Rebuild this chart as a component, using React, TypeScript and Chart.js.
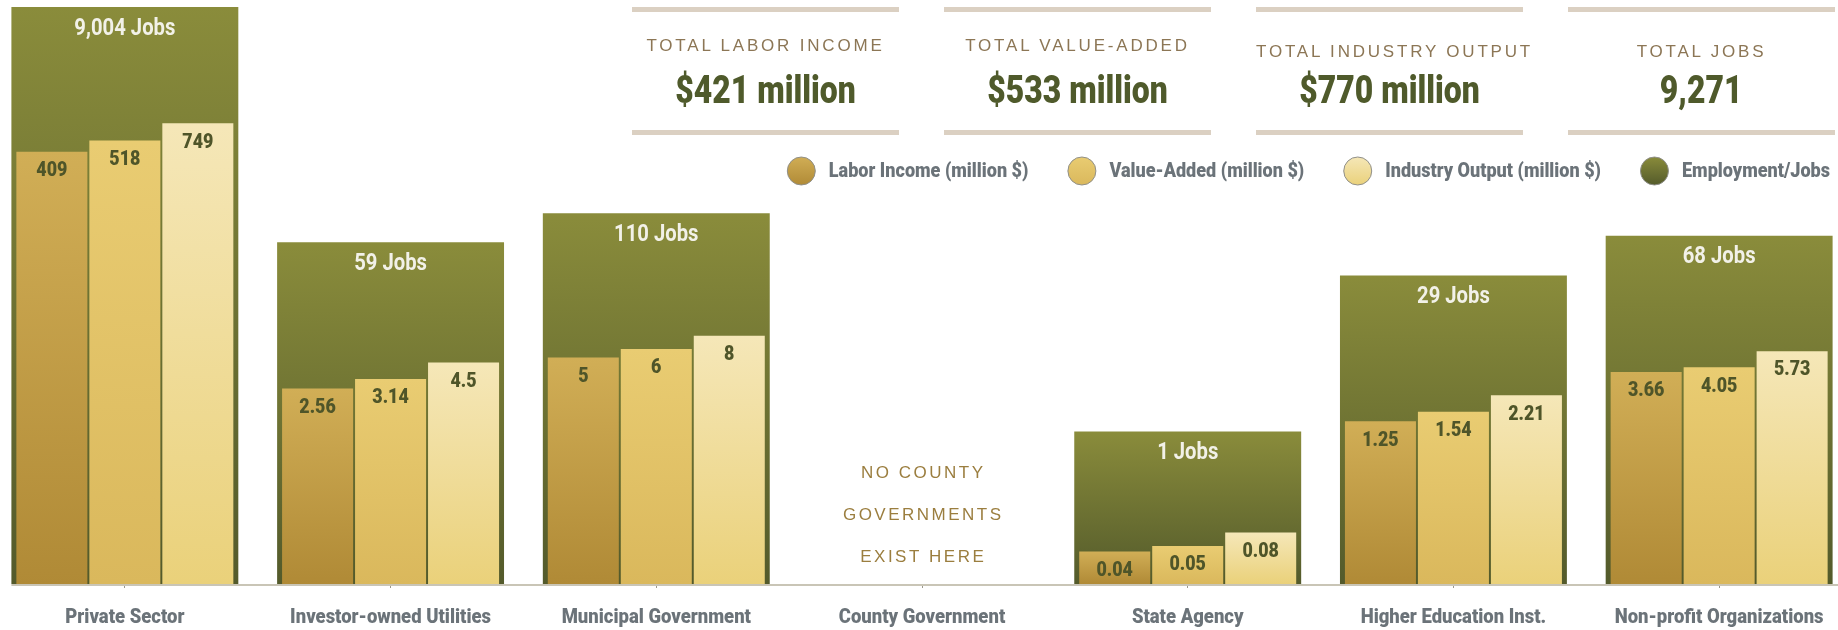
import React, { useEffect, useRef } from "react";
import { Chart, registerables, LogarithmicScale } from "chart.js";

// ---------------- data ----------------
const categories = [
  "Private Sector",
  "Investor-owned Utilities",
  "Municipal Government",
  "County Government",
  "State Agency",
  "Higher Education Inst.",
  "Non-profit Organizations",
];
const laborIncome = [409, 2.56, 5, null, 0.04, 1.25, 3.66];
const valueAdded = [518, 3.14, 6, null, 0.05, 1.54, 4.05];
const industryOutput = [749, 4.5, 8, null, 0.08, 2.21, 5.73];
const jobs = [9004, 59, 110, null, 1, 29, 68];

const legendLabels = [
  "Labor Income (million $)",
  "Value-Added (million $)",
  "Industry Output (million $)",
  "Employment/Jobs",
];
const kpiTitles = ["TOTAL LABOR INCOME", "TOTAL VALUE-ADDED", "TOTAL INDUSTRY OUTPUT", "TOTAL JOBS"];
const kpiValues = ["$421 million", "$533 million", "$770 million", "9,271"];
const noDataNote = ["NO COUNTY", "GOVERNMENTS", "EXIST HERE"];

const Y_MIN = 0.04;
const Y_MAX = 10000;

// ---------------- styles ----------------
const BOLD = 'Roboto, "Liberation Sans", "DejaVu Sans", sans-serif';
const REG = '"Liberation Sans", "DejaVu Sans", sans-serif';
const W = "900";
const GRADS: [string, string][] = [
  ["#d1ae56", "#b08a36"],
  ["#e9cc72", "#dab85c"],
  ["#f5e7b8", "#ead17a"],
  ["#8a8c3b", "#535a2b"],
];

// log scale whose values are shifted by its minimum so tiny values stay visible
class ShiftedLogScale extends LogarithmicScale {
  static id = "shiftedLog";
  static defaults = LogarithmicScale.defaults;
  getPixelForValue(value: any) {
    if (value === undefined || value === null || value === 0 || isNaN(value)) {
      return super.getPixelForValue(value);
    }
    return super.getPixelForValue(value + Y_MIN);
  }
}

Chart.register(...registerables, ShiftedLogScale);

function barGradient(idx: number) {
  const [top, bottom] = GRADS[idx];
  return (c: any) => {
    const chart = c.chart;
    const y = chart.scales && chart.scales.y;
    if (!y || c.raw == null) return bottom;
    const yTop = y.getPixelForValue(c.raw);
    const yBot = y.getPixelForValue(0);
    if (!isFinite(yTop) || !isFinite(yBot) || yBot - yTop < 1) return bottom;
    const g = chart.ctx.createLinearGradient(0, yTop, 0, yBot);
    g.addColorStop(0, top);
    g.addColorStop(1, bottom);
    return g;
  };
}

// draws condensed-looking text by squeezing horizontally
function squeezed(ctx: CanvasRenderingContext2D, text: string, x: number, y: number, sx: number) {
  ctx.save();
  ctx.translate(x, y);
  ctx.scale(sx, 1);
  ctx.fillText(text, 0, 0);
  ctx.restore();
}

const labelsPlugin = {
  id: "barLabels",
  afterDatasetsDraw(chart: any) {
    const ctx: CanvasRenderingContext2D = chart.ctx;
    const bottom = chart.chartArea.bottom;
    ctx.save();
    ctx.textAlign = "center";
    ctx.textBaseline = "middle";
    chart.data.datasets.forEach((ds: any, di: number) => {
      const meta = chart.getDatasetMeta(di);
      const isJobs = di === 3;
      meta.data.forEach((el: any, i: number) => {
        const v = ds.data[i];
        if (v == null) return;
        if (isJobs) {
          ctx.font = `bold 23px ${BOLD}`;
          ctx.fillStyle = "#f2f1e8";
          squeezed(ctx, `${v.toLocaleString("en-US")} Jobs`, el.x, el.y + 22, 0.88);
        } else {
          ctx.font = `${W} 21px ${BOLD}`;
          ctx.fillStyle = "#4f5529";
          squeezed(ctx, String(v), el.x, el.y + 19, 0.85);
        }
      });
    });

    // axis line from first jobs bar to right edge
    const jm = chart.getDatasetMeta(3);
    const first = jm.data[0];
    ctx.strokeStyle = "#c9c5b6";
    ctx.lineWidth = 2;
    ctx.beginPath();
    ctx.moveTo(first.x - first.width / 2, bottom + 1);
    ctx.lineTo(chart.width, bottom + 1);
    ctx.stroke();

    // category labels
    const xs = chart.scales.x;
    ctx.font = `${W} 21px ${BOLD}`;
    ctx.fillStyle = "#6b7379";
    categories.forEach((c, i) => {
      squeezed(ctx, c, xs.getPixelForValue(i), bottom + 34, 0.88);
    });

    // note for empty category
    categories.forEach((_, i) => {
      if (laborIncome[i] != null || jobs[i] != null) return;
      const cx = xs.getPixelForValue(i);
      ctx.font = `17px ${REG}`;
      ctx.fillStyle = "#9b7e3f";
      (ctx as any).letterSpacing = "2.5px";
      noDataNote.forEach((line, k) => {
        const y = bottom - 27 - (noDataNote.length - 1 - k) * 42;
        ctx.fillText(line, cx + 1.25, y);
      });
      (ctx as any).letterSpacing = "0px";
    });

    // legend (right aligned, under KPI boxes)
    const R = 14.5;
    const gapIcon = 13;
    const gapItem = 39;
    const sx = 0.86;
    ctx.font = `${W} 21px ${BOLD}`;
    const widths = legendLabels.map((l) => ctx.measureText(l).width * sx);
    const total = widths.reduce((a, w) => a + 2 * R + gapIcon + w, 0) + gapItem * (legendLabels.length - 1);
    let x = chart.width - 22 - total;
    const ly = 171;
    legendLabels.forEach((l, i) => {
      const cx = x + R;
      const g = ctx.createLinearGradient(0, ly - R, 0, ly + R);
      g.addColorStop(0, GRADS[i][0]);
      g.addColorStop(1, GRADS[i][1]);
      ctx.beginPath();
      ctx.arc(cx, ly, R - 0.5, 0, Math.PI * 2);
      ctx.fillStyle = g;
      ctx.fill();
      ctx.lineWidth = 1;
      ctx.strokeStyle = "#8f8f8a";
      ctx.stroke();
      ctx.fillStyle = "#6b7379";
      ctx.textAlign = "left";
      ctx.save();
      ctx.translate(x + 2 * R + gapIcon, ly + 1);
      ctx.scale(sx, 1);
      ctx.fillText(l, 0, 0);
      ctx.restore();
      x += 2 * R + gapIcon + widths[i] + gapItem;
    });
    ctx.restore();
  },
};

export default function App() {
  const ref = useRef<HTMLCanvasElement>(null);

  useEffect(() => {
    if (!ref.current) return;
    const series = [laborIncome, valueAdded, industryOutput];
    const chart = new Chart(ref.current, {
      type: "bar",
      data: {
        labels: categories,
        datasets: [
          ...series.map((d, i) => ({
            label: legendLabels[i],
            data: d,
            backgroundColor: barGradient(i),
            categoryPercentage: 0.824,
            barPercentage: 0.973,
            borderWidth: 0,
            order: 1,
          })),
          {
            label: legendLabels[3],
            data: jobs,
            backgroundColor: barGradient(3),
            grouped: false,
            categoryPercentage: 0.854,
            barPercentage: 1,
            borderWidth: 0,
            order: 2,
          },
        ] as any,
      },
      options: {
        responsive: false,
        animation: false,
        layout: { padding: { top: 2, left: 0, right: 0, bottom: 0 } },
        plugins: { legend: { display: false }, tooltip: { enabled: false } },
        scales: {
          x: {
            type: "category",
            offset: true,
            grid: {
              display: true,
              offset: false,
              drawOnChartArea: false,
              drawTicks: true,
              tickLength: 4,
              color: "#9a988c",
              lineWidth: 1,
            },
            border: { display: false },
            ticks: { display: false },
            afterFit: (s: any) => {
              s.height = 46;
            },
          },
          y: {
            type: "shiftedLog" as any,
            display: false,
            min: Y_MIN,
            max: Y_MAX,
            bounds: "data",
          } as any,
        },
      },
      plugins: [labelsPlugin],
    });
    return () => chart.destroy();
  }, []);

  return (
    <div
      style={{
        position: "fixed",
        left: 0,
        top: 0,
        width: 1838,
        height: 630,
        overflow: "hidden",
        background: "#fff",
      }}
    >
      <canvas ref={ref} width={1860} height={630} style={{ position: "absolute", left: -8, top: 0 }} />
      <div
        style={{
          position: "absolute",
          left: 632,
          top: 7,
          width: 1203,
          display: "flex",
          justifyContent: "space-between",
        }}
      >
        {kpiTitles.map((t, i) => (
          <div
            key={t}
            style={{
              position: "relative",
              width: 267,
              height: 128,
              boxSizing: "border-box",
              borderTop: "5px solid #dbd0c2",
              borderBottom: "5px solid #dbd0c2",
              textAlign: "center",
            }}
          >
            <div
              style={{
                position: "absolute",
                left: 0,
                right: 0,
                top: i >= 2 ? 30 : 24,
                lineHeight: "20px",
                font: `17px ${REG}`,
                letterSpacing: "2.8px",
                color: "#8c7655",
                whiteSpace: "nowrap",
              }}
            >
              {t}
            </div>
            <div
              style={{
                position: "absolute",
                left: 0,
                right: 0,
                top: 56,
                lineHeight: "44px",
                whiteSpace: "nowrap",
              }}
            >
              <span
                style={{
                  display: "inline-block",
                  font: `${W} 38px ${BOLD}`,
                  color: "#4f5a2b",
                  transform: "scaleX(0.84)",
                  transformOrigin: "50% 50%",
                }}
              >
                {kpiValues[i]}
              </span>
            </div>
          </div>
        ))}
      </div>
    </div>
  );
}
